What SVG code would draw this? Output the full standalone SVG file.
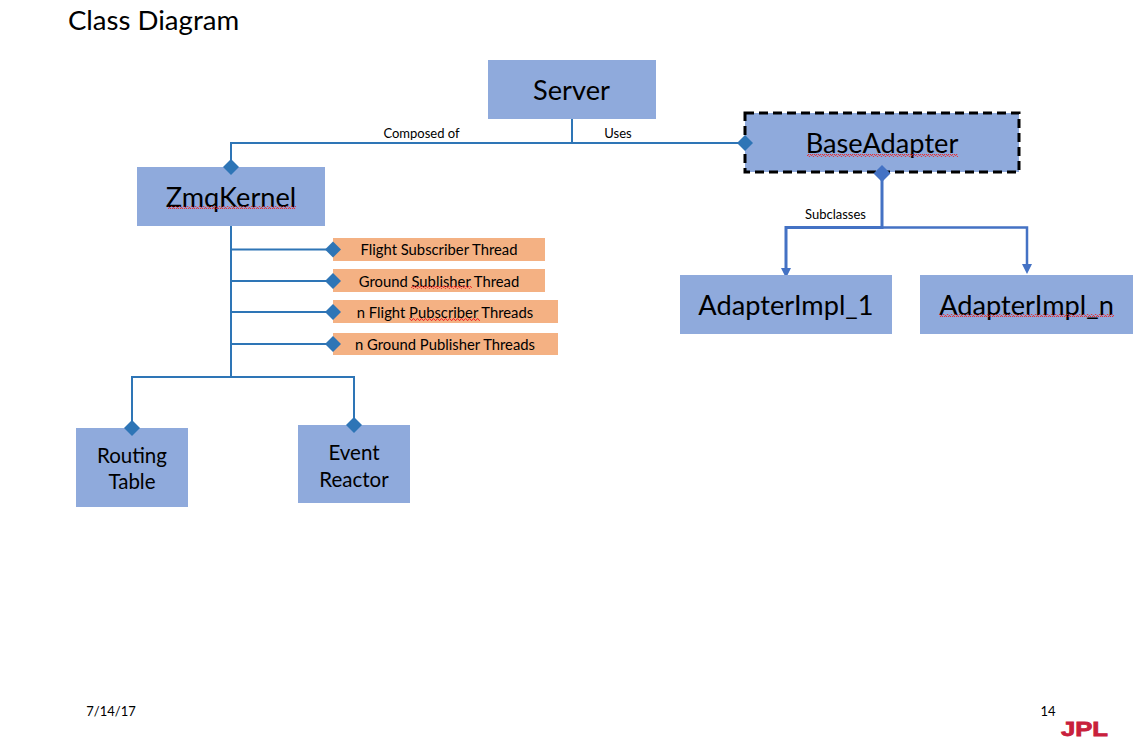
<svg xmlns="http://www.w3.org/2000/svg" width="1147" height="751" viewBox="0 0 1147 751">
<style>
text{font-family:Lato,"Open Sans","Liberation Sans",sans-serif;fill:#000;text-anchor:middle}
.box{fill:#8faadc}
.o{fill:#f4b183}
.big{font-size:27.200px}
.mid{font-size:20.500px}
.sm{font-size:14.800px}
.lab{font-size:13px}
.c{fill:none;stroke:#2e75b6;stroke-width:2}
.c2{fill:none;stroke:#4472c4;stroke-width:3}
.c3{fill:none;stroke:#4472c4;stroke-width:2.500}
.d{fill:#2e75b6}
.d2{fill:#4472c4}
</style>
<defs>
<pattern id="sq" width="4" height="3" patternUnits="userSpaceOnUse"><path d="M0 2.5L1 .7L2 .7L3 2.3L4 2.5" fill="none" stroke="#ee2020" stroke-width=".9"/></pattern>
<path id="dia" d="M0-8L8 0L0 8L-8 0Z"/>
<path id="dia2" d="M0-8.500L8.500 0L0 8.500L-8.500 0Z"/>
</defs>
<rect width="1147" height="751" fill="#fff"/>
<text x="153.500" y="30" style="font-size:27.600px">Class Diagram</text>
<g id="connectors">
<path class="c" d="M572 119V143M231 167V143H745"/>
<path class="c" d="M231 226V377M231 249.500H333M231 281H333M231 312H333M231 344H333M132 428V377H354V425"/>
<path class="c2" d="M882 173V227.500H786V270"/>
<path class="c3" d="M882 227.500H1027V267"/>
<path class="d2" d="M781 268H791L786 278ZM1022 264H1032L1027 274Z"/>
</g>
<g id="server"><rect class="box" x="488" y="60" width="168" height="59"/><text class="big" x="571.500" y="100">Server</text></g>
<g id="zmqkernel"><rect class="box" x="137" y="167" width="188" height="59"/><text class="big" x="231" y="207">ZmqKernel</text><rect x="168" y="206" width="128" height="3" fill="url(#sq)"/></g>
<g id="baseadapter"><rect class="box" x="745" y="113" width="274" height="59" stroke="#000" stroke-width="3" stroke-dasharray="9 5"/><text class="big" x="882" y="153">BaseAdapter</text><rect x="807" y="154" width="151" height="3" fill="url(#sq)"/></g>
<g id="adapterimpl1"><rect class="box" x="680" y="275" width="212" height="59"/><text class="big" x="786" y="315">AdapterImpl_1</text></g>
<g id="adapterimpln"><rect class="box" x="920" y="275" width="213" height="59"/><text class="big" x="1026.500" y="315">AdapterImpl_n</text><rect x="939" y="314" width="175" height="3" fill="url(#sq)"/></g>
<g id="routing"><rect class="box" x="76" y="428" width="112" height="79"/><text class="mid" x="132" y="462.500">Routing</text><text class="mid" x="132" y="489">Table</text></g>
<g id="event"><rect class="box" x="298" y="425" width="112" height="78"/><text class="mid" x="354" y="459.500">Event</text><text class="mid" x="354" y="486.500">Reactor</text></g>
<g id="t1"><rect class="o" x="333" y="238" width="212" height="23"/><text class="sm" x="439" y="255">Flight Subscriber Thread</text></g>
<g id="t2"><rect class="o" x="333" y="269" width="212" height="23"/><text class="sm" x="439" y="287">Ground Sublisher Thread</text><rect x="411" y="286" width="61" height="3" fill="url(#sq)"/></g>
<g id="t3"><rect class="o" x="333" y="300" width="225" height="23"/><text class="sm" x="445" y="318">n Flight Pubscriber Threads</text><rect x="409" y="318" width="71" height="3" fill="url(#sq)"/></g>
<g id="t4"><rect class="o" x="333" y="333" width="225" height="22"/><text class="sm" x="445" y="350">n Ground Publisher Threads</text></g>
<g id="diamonds">
<use href="#dia" class="d" x="231" y="167"/>
<use href="#dia" class="d" x="745" y="143"/>
<use href="#dia2" class="d2" x="882" y="173.500"/>
<use href="#dia" class="d" x="333" y="249.500"/>
<use href="#dia" class="d" x="333" y="281"/>
<use href="#dia" class="d" x="333" y="312"/>
<use href="#dia" class="d" x="333" y="344"/>
<use href="#dia" class="d" x="132" y="428"/>
<use href="#dia" class="d" x="354" y="425"/>
</g>
<text class="lab" x="421.500" y="137.500">Composed of</text>
<text class="lab" x="618" y="137.500">Uses</text>
<text class="lab" x="835.500" y="218.500">Subclasses</text>
<text class="lab" x="111" y="715.500">7/14/17</text>
<text class="lab" x="1048" y="715.500">14</text>
<text x="1084.500" y="736" textLength="47" lengthAdjust="spacingAndGlyphs" stroke="#c8203c" stroke-width=".8" style="font-size:20px;font-weight:700;fill:#c8203c;font-family:'Liberation Sans',sans-serif">JPL</text>
</svg>
